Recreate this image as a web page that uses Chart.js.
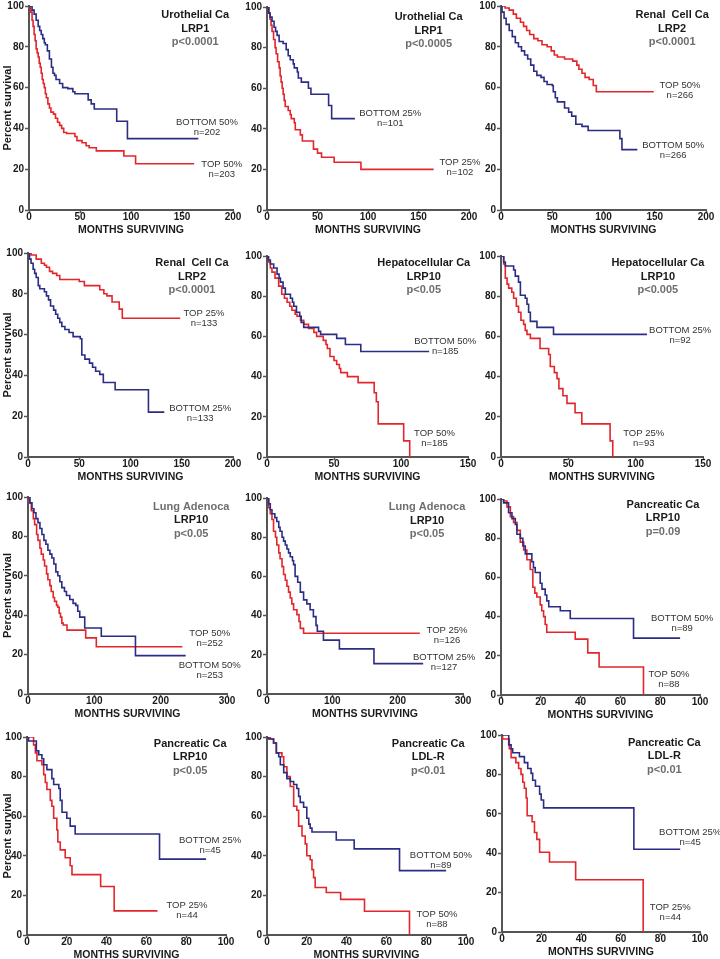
<!DOCTYPE html>
<html>
<head>
<meta charset="utf-8">
<script src="https://cdn.jsdelivr.net/npm/chart.js@4.4.0/dist/chart.umd.min.js"></script>
<style>
  html, body { margin: 0; padding: 0; background: #fff; width: 720px; height: 959px; overflow: hidden; position: relative; }
  canvas.panel { position: absolute; }
</style>
</head>
<body>
<script>
// Kaplan-Meier step points: [month, percent surviving] (survival drops to value at that month)
const uroLrp1Bottom50 = [[0,100],[3,98],[5,96],[7,93],[9,90],[10.5,88],[12,86],[13.5,84],[15,82],[16,81],[18,78],[20,74],[22,70],[23.5,67],[25,66],[26.5,64],[30,62],[33,60],[38,59.5],[43,58],[45,57],[58,54],[61,52],[64,49.5],[86,43.5],[96.5,35],[166,35]];
const uroLrp1Top50 = [[0,100],[1.5,97],[3,93],[4,90],[5,86],[6,83],[7,79],[8,77],[9,75],[10,72],[11,70],[12,67],[13,64],[14,62],[15,60],[16,57],[17,55],[18.5,52],[20,50],[21.5,48],[24,47],[26,45],[28,43],[30,41.5],[32,40],[34,38],[37,37.5],[45,36],[47,34],[52,33],[56,31.5],[59,30.5],[66,29],[93,26.5],[104.5,22.7],[162,22.7]];

const uroLrp1Bottom25 = [[0,100],[1.5,97],[3,95],[5,93],[7,90],[8.5,88],[10,86],[12,83],[16,82],[19,79],[21,76],[23,74],[26,72],[27,70],[30,68],[31,65],[34,63],[41,60],[43.5,57],[61,51.5],[64,45],[87,45]];
const uroLrp1Top25 = [[0,100],[2,97],[3,94],[4,91],[5,88],[6.5,84],[8,80],[9,77],[10.5,73],[12,70],[13,66],[14,63],[15,60],[16,57],[17,54],[18,51],[21,49],[23,47],[24,45],[27,43],[28,39.5],[33,37],[35,34],[46,30],[50,28],[54,26],[66.5,23.5],[93,20],[165,20]];

const renalLrp2Top50 = [[0,100],[4,99],[8,98],[12,96],[15,94],[19,92],[22,90],[25,88],[28,86],[32,84],[36,83],[40,81],[45,80],[49,78],[52,76],[55,75],[62,74],[70,73],[74,71],[76,69],[79,67],[82,65],[86,64],[90,61],[93,58],[149,58]];
const renalLrp2Bottom50 = [[0,100],[1,97],[3,94],[5,91],[8,88],[11,85],[14,82],[17,80],[20,78],[23,76],[26,74],[29,71],[32,68],[35,66],[39,65],[42,63],[45,61.5],[50,61],[51,58],[53,55],[55,53],[62,50],[66,48],[69,46],[73,42],[79,41],[85,39],[116,35],[118,29.6],[133,29.6]];

const renalLrp2Top25 = [[0,100],[3,99],[8,97],[13,95],[16,94],[18,93],[21,91],[24,90],[28,89],[31,87],[50,86],[55,84],[70,82],[74,80],[77,79],[82,76],[89,72.5],[92,68],[148.5,68]];
const renalLrp2Bottom25 = [[0,100],[1.5,97],[3,95],[5,92],[6.5,90],[8,88],[10,84],[11.5,82.5],[16,81],[18,79],[20,77],[22,74],[25,72],[27,70],[29,68],[31,66],[33,64],[36,62.5],[40,61],[44,59],[51,58],[52.5,50],[55.5,48],[60,46],[63,44],[66,42],[70,40.5],[73.5,36.5],[85,33],[117.5,22],[133,22]];

const hepLrp10Bottom50 = [[0,100],[1,98],[2.5,96],[5,94],[7.5,91],[9,89],[10,87],[12,84],[13.7,81],[17.5,79],[19,77],[20,75],[22,72],[24.4,70],[25.5,67],[27.4,64.5],[38.5,62.5],[40,61],[52,59],[58.5,56],[70,52.5],[121,52.5]];
const hepLrp10Top50 = [[0,100],[1.2,97],[2.5,94],[3.7,92],[6,89],[8.7,85],[11,81],[13,79],[15,77],[17,75],[18.6,73],[21,71],[22.4,70],[25,68],[27.4,66],[31,64],[35,62],[37,60],[42,58],[44,56],[45,54],[47,50],[50,48],[52,46],[54,44],[55,42],[60,40],[68,37],[80,32],[81.6,27.5],[83,16.5],[102,8],[106.5,0]];

const hepLrp10Bottom25 = [[0,100],[2,97],[3.2,95],[9.4,93],[10.6,90],[13,87],[14.4,80.5],[18,79],[19.3,76],[20.5,72],[21.8,67.5],[26.7,64.5],[39,61],[108.4,61]];
const hepLrp10Top25 = [[0,100],[2,96],[3.2,89],[4.5,86],[5.7,84],[8,82],[9.4,79],[11.4,75],[13,72],[14.8,68],[16.8,66],[18,63],[19.3,61],[21.8,59],[29,54],[35.4,51],[36.6,45],[39.6,42],[41.6,39],[43,34],[46,30.5],[49,26.7],[55,22],[60,16.5],[81,8],[83,0]];

const lungLrp10Bottom50 = [[0,100],[3,97],[6,94],[9,92],[12,89],[15,87],[18,84],[21,81],[24,78],[27,76],[30,73],[33,71],[36,69],[39,66],[42,62],[45,60],[48,57],[51,54],[55,52],[58,50],[63,48],[68,46],[72,45],[75,42],[78,39],[85.5,33.5],[110.5,29.3],[162,19.5],[237.7,19.5]];
const lungLrp10Top50 = [[0,100],[2,97],[5,93],[8,89],[10,86],[13,81],[15,78],[18,74],[20,71],[23,68],[25,65],[28,61],[30,58],[33,55],[35,52],[38,49],[40,47],[43,45],[45,44],[47,41],[49,39],[51,36],[53,35],[58.8,32.4],[87,28.5],[103,24],[232.7,24]];

const lungLrp10Bottom25 = [[0,100],[2.5,97],[5,94],[7.6,92],[12,90],[15,88],[18,85],[20,83],[23,80],[25.4,78],[28,76],[30.5,74],[33,72],[35.6,70],[39,68],[40.7,66],[43,60],[47,57],[51,52],[56,48],[61,46],[66,43],[71,39.5],[75,35],[77,32],[86.4,27.5],[110.8,23],[163.7,15.5],[239,15.5]];
const lungLrp10Top25 = [[0,100],[2.5,95],[5,92],[7.6,89],[10,83],[13,80],[15,76],[18,72],[20,69],[23,65],[25.4,61],[28,58],[30.5,55],[33,52],[35.6,49],[38,46],[40.7,43],[45.8,40.5],[49,37],[51,33.5],[56,31],[233.9,31]];

const pancLrp10Bottom50 = [[0,100],[1.3,98],[3.8,93],[5.5,90],[7.2,87],[8,82],[9.7,80],[11,76],[12.2,72],[15.5,68],[16.3,65],[17.2,62.5],[19.7,57],[20.6,54],[22.2,51],[23,48],[24,45],[29.8,43],[34.8,39],[66.6,29],[90,29]];
const pancLrp10Top50 = [[0,100],[1.3,99],[3,96],[4.7,91],[6.3,88],[8,84],[9.7,78],[11.4,74],[13,69],[14.7,64],[16,55],[17,52],[18,50],[19.7,46],[20.5,43],[21.4,40],[22.2,36],[23,32],[37.3,28.5],[43.6,21.5],[49.3,14.3],[71.6,0]];

const pancLrp10Bottom25 = [[0,100],[0.8,98],[4.7,93],[5.9,91],[7.5,89],[8.4,86],[10,83.5],[12.5,79],[13.4,76],[16,74],[16.7,68],[17.6,62],[20,59],[21.7,55],[24.2,51],[66.6,38.3],[90,38.3]];
const pancLrp10Top25 = [[0,100],[3.3,96],[4.2,92],[5,88],[7.5,86],[8.4,81],[9.2,77],[10,73.5],[11.7,68],[12.5,65],[13.4,59],[15,53],[15.5,47],[16.7,43],[19.2,39],[21.7,35],[22.6,30.5],[37,24.5],[43.8,12.2],[65.6,12.2]];

const pancLdlrBottom50 = [[0,100],[0.8,99],[3.3,97],[4.7,92],[5.9,90],[6.7,86],[8.4,82],[10,79],[11.7,77.5],[13.4,76],[15,74],[15.9,70],[16.7,67],[18.4,64.5],[20,59],[21,56],[21.7,54],[22.6,52],[34.8,48],[43.8,43.5],[66.6,32.5],[90,32.5]];
const pancLdlrTop50 = [[0,100],[1.7,99],[3.3,97],[4.7,92],[7.5,90],[8.4,85],[10,80],[11.7,75],[13.4,65],[15,63],[15.9,55],[17.6,50],[19.2,46],[20,40],[21.7,38],[22.6,33],[23.4,29],[24.2,24],[29.8,21.5],[37,18],[49,12],[71.6,0]];

const pancLdlrBottom25 = [[0,100],[3.4,95],[4.6,93],[5.4,91],[8.8,89],[11.3,86],[13,83],[14.7,80.5],[15.5,77],[16.9,74],[19,70],[19.8,67],[21,63],[66.6,42],[90,42]];
const pancLdlrTop25 = [[0,100],[0.3,98],[3.7,93],[4.6,88.5],[7,86],[8.4,83],[9.6,80],[10.5,76],[11.3,73],[12.2,68],[12.7,59],[15.2,56],[16.4,50.5],[17.6,47],[19,40.5],[24,35.5],[37.2,26.5],[71.3,0]];

// axis ticks
const yTicks = [0, 20, 40, 60, 80, 100];
const xTicks200 = [0, 50, 100, 150, 200];
const xTicks150 = [0, 50, 100, 150];
const xTicks300 = [0, 100, 200, 300];
const xTicks100 = [0, 20, 40, 60, 80, 100];

// panel texts
const titles = [
  ["Urothelial Ca", "LRP1", "p<0.0001"],
  ["Urothelial Ca", "LRP1", "p<0.0005"],
  ["Renal  Cell Ca", "LRP2", "p<0.0001"],
  ["Renal  Cell Ca", "LRP2", "p<0.0001"],
  ["Hepatocellular Ca", "LRP10", "p<0.05"],
  ["Hepatocellular Ca", "LRP10", "p<0.005"],
  ["Lung Adenoca", "LRP10", "p<0.05"],
  ["Lung Adenoca", "LRP10", "p<0.05"],
  ["Pancreatic Ca", "LRP10", "p=0.09"],
  ["Pancreatic Ca", "LRP10", "p<0.05"],
  ["Pancreatic Ca", "LDL-R", "p<0.01"],
  ["Pancreatic Ca", "LDL-R", "p<0.01"]
];
const blueGroups = [
  ["BOTTOM 50%", "n=202"], ["BOTTOM 25%", "n=101"], ["BOTTOM 50%", "n=266"], ["BOTTOM 25%", "n=133"],
  ["BOTTOM 50%", "n=185"], ["BOTTOM 25%", "n=92"], ["BOTTOM 50%", "n=253"], ["BOTTOM 25%", "n=127"],
  ["BOTTOM 50%", "n=89"], ["BOTTOM 25%", "n=45"], ["BOTTOM 50%", "n=89"], ["BOTTOM 25%", "n=45"]
];
const redGroups = [
  ["TOP 50%", "n=203"], ["TOP 25%", "n=102"], ["TOP 50%", "n=266"], ["TOP 25%", "n=133"],
  ["TOP 50%", "n=185"], ["TOP 25%", "n=93"], ["TOP 50%", "n=252"], ["TOP 25%", "n=126"],
  ["TOP 50%", "n=88"], ["TOP 25%", "n=44"], ["TOP 50%", "n=88"], ["TOP 25%", "n=44"]
];

const BLUE = "#2b2d85";
const RED = "#e3262b";
const GRAY = "#6e6e6e";
const INK = "#1a1a1a";
const FAMILY = "'Liberation Sans', Arial, Helvetica, sans-serif";

Chart.defaults.font.family = FAMILY;

// layout: cell origin, plot area edges [left, right, top, bottom] in page pixels, text anchors in data units
const panels = [
  { cell: [0, 0], area: [29, 233, 6, 210], xTicks: xTicks200, blue: uroLrp1Bottom50, red: uroLrp1Top50, titleAt: [163, 95.6], blueAt: [174.5, 43], redAt: [189, 22.5] },
  { cell: [240, 0], area: [267, 469, 7, 210], xTicks: xTicks200, blue: uroLrp1Bottom25, red: uroLrp1Top25, titleAt: [160, 95], blueAt: [122, 47.8], redAt: [191, 23.6] },
  { cell: [480, 0], area: [501, 706, 6, 210], xTicks: xTicks200, blue: renalLrp2Bottom50, red: renalLrp2Top50, titleAt: [167, 95.6], blueAt: [168, 31.9], redAt: [174.6, 61.3] },
  { cell: [0, 240], area: [28, 233, 253, 457], xTicks: xTicks200, blue: renalLrp2Bottom25, red: renalLrp2Top25, titleAt: [160, 95], blueAt: [168, 24], redAt: [171.7, 70.6] },
  { cell: [240, 240], area: [267, 468, 256, 457], xTicks: xTicks150, blue: hepLrp10Bottom50, red: hepLrp10Top50, titleAt: [117, 96.5], blueAt: [133, 57.7], redAt: [125, 11.9] },
  { cell: [480, 240], area: [501, 703, 256, 457], xTicks: xTicks150, blue: hepLrp10Bottom25, red: hepLrp10Top25, titleAt: [116.5, 96.5], blueAt: [133, 63.2], redAt: [106, 11.9] },
  { cell: [0, 480], area: [28, 227, 497, 694], xTicks: xTicks300, blue: lungLrp10Bottom50, red: lungLrp10Top50, titleAt: [246, 95], blueAt: [274, 14.7], redAt: [274, 31], grayFirst: true },
  { cell: [240, 480], area: [267, 463, 498, 694], xTicks: xTicks300, blue: lungLrp10Bottom25, red: lungLrp10Top25, titleAt: [245, 95.4], blueAt: [271, 18.9], redAt: [275.6, 32.7], grayFirst: true },
  { cell: [480, 480], area: [501, 700, 499, 695], xTicks: xTicks100, blue: pancLrp10Bottom50, red: pancLrp10Top50, titleAt: [81.4, 97], blueAt: [91, 39.3], redAt: [84.4, 10.7] },
  { cell: [0, 720], area: [27, 226, 737, 935], xTicks: xTicks100, blue: pancLrp10Bottom25, red: pancLrp10Top25, titleAt: [82, 96.5], blueAt: [92, 48], redAt: [80.4, 15.2] },
  { cell: [240, 720], area: [267, 466, 737, 935], xTicks: xTicks100, blue: pancLdlrBottom50, red: pancLdlrTop50, titleAt: [81, 96.5], blueAt: [87.4, 40.4], redAt: [85.4, 10.6] },
  { cell: [480, 720], area: [502, 700, 735, 932], xTicks: xTicks100, blue: pancLdlrBottom25, red: pancLdlrTop25, titleAt: [82, 96], blueAt: [95, 50.8], redAt: [85, 12.7] }
];

const CW = 260, CH = 270, XAXIS_H = 26;

const annotate = {
  id: "annotate",
  afterDraw(chart, args, opts) {
    const { ctx, scales: { x, y } } = chart;
    ctx.save();
    ctx.textAlign = "center";
    ctx.textBaseline = "middle";
    ctx.font = "bold 11px " + FAMILY;
    opts.title.forEach((line, i) => {
      ctx.fillStyle = i === 2 || (i === 0 && opts.grayFirst) ? GRAY : INK;
      ctx.fillText(line, x.getPixelForValue(opts.titleAt[0]), y.getPixelForValue(opts.titleAt[1]) + i * 13.5);
    });
    ctx.font = "9.5px " + FAMILY;
    ctx.fillStyle = "#333";
    for (const g of opts.groups) {
      g.text.forEach((line, i) => {
        ctx.fillText(line, x.getPixelForValue(g.at[0]), y.getPixelForValue(g.at[1]) + i * 10.5);
      });
    }
    ctx.restore();
  }
};

panels.forEach((p, i) => {
  const [cl, ct] = p.cell;
  const [left, right, top, bottom] = p.area;
  const canvasTop = ct - 10;
  const canvas = document.createElement("canvas");
  canvas.className = "panel";
  canvas.width = CW;
  canvas.height = CH;
  canvas.style.left = cl + "px";
  canvas.style.top = canvasTop + "px";
  document.body.appendChild(canvas);

  const xs = p.xTicks;
  const line = (pts, color) => ({
    data: pts.map(([x, y]) => ({ x, y })),
    borderColor: color,
    borderWidth: 1.6,
    pointRadius: 0,
    stepped: true,
    fill: false
  });

  new Chart(canvas, {
    type: "line",
    data: { datasets: [line(p.blue, BLUE), line(p.red, RED)] },
    options: {
      responsive: false,
      animation: false,
      devicePixelRatio: 1,
      layout: {
        autoPadding: false,
        padding: {
          left: 0,
          top: top - canvasTop,
          right: CW - (right - cl),
          bottom: CH - XAXIS_H - (bottom - canvasTop)
        }
      },
      plugins: {
        legend: { display: false },
        tooltip: { enabled: false },
        annotate: {
          title: titles[i],
          titleAt: p.titleAt,
          grayFirst: !!p.grayFirst,
          groups: [
            { text: blueGroups[i], at: p.blueAt },
            { text: redGroups[i], at: p.redAt }
          ]
        }
      },
      scales: {
        x: {
          type: "linear",
          min: xs[0],
          max: xs[xs.length - 1],
          afterBuildTicks: (s) => { s.ticks = xs.map((v) => ({ value: v })); },
          afterFit: (s) => { s.height = XAXIS_H; },
          ticks: { color: INK, padding: -2, maxRotation: 0, autoSkip: false, font: { size: 10, weight: "bold" } },
          grid: { drawOnChartArea: false, tickLength: 3, color: "#555", tickWidth: 1.5 },
          border: { color: "#555", width: 2 },
          title: { display: true, text: "MONTHS SURVIVING", color: INK, padding: 0, font: { size: 10.5, weight: "bold" } }
        },
        y: {
          min: 0,
          max: 100,
          afterBuildTicks: (s) => { s.ticks = yTicks.map((v) => ({ value: v })); },
          afterFit: (s) => { s.width = left - cl; },
          ticks: { color: INK, padding: 1, font: { size: 10, weight: "bold" } },
          grid: { drawOnChartArea: false, tickLength: 4, color: "#555", tickWidth: 1.5 },
          border: { color: "#555", width: 2 },
          title: { display: cl === 0, text: "Percent survival", color: INK, padding: { top: 1, bottom: 0 }, font: { size: 11, weight: "bold" } }
        }
      }
    },
    plugins: [annotate]
  });
});
</script>
</body>
</html>
